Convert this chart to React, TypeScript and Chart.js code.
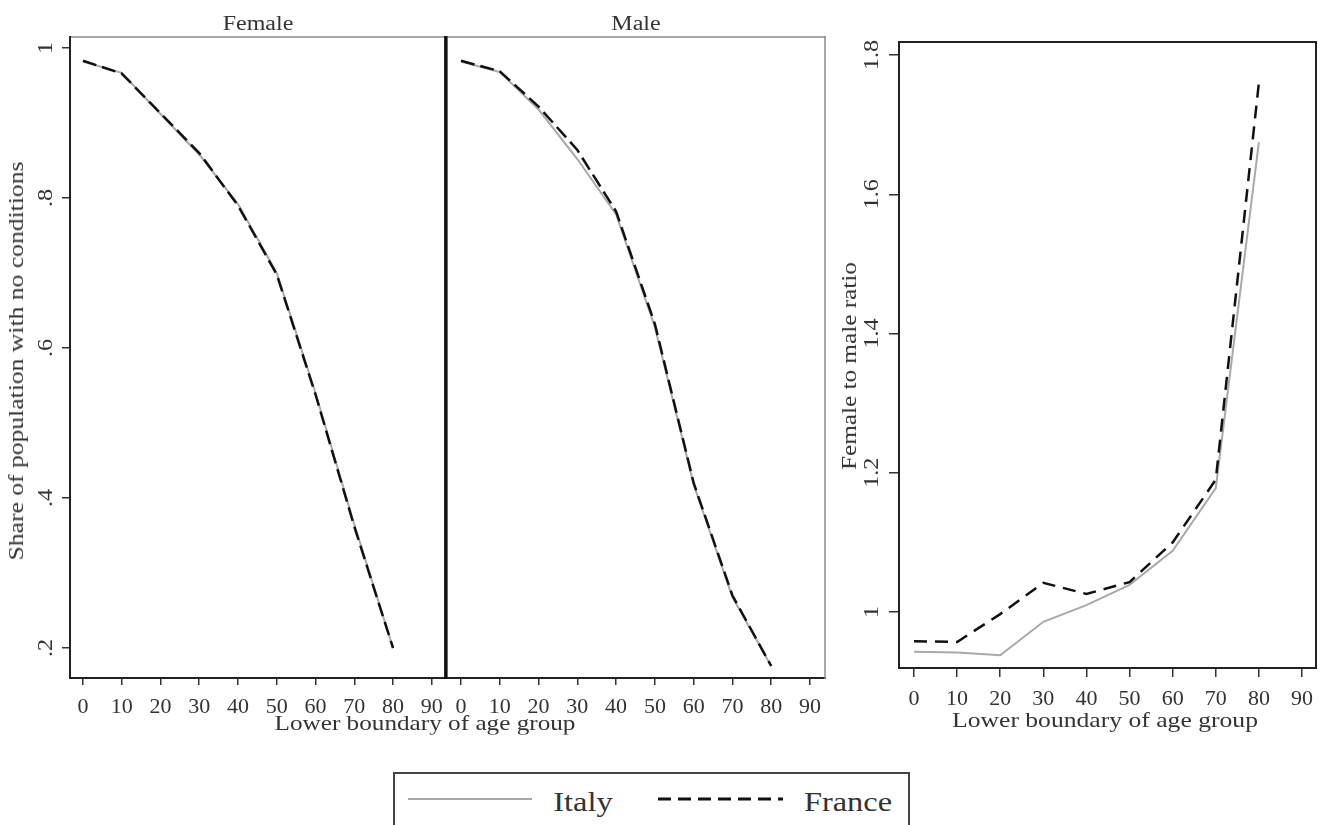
import React, { useEffect, useRef } from 'react';
import { Chart, registerables } from 'chart.js';

Chart.register(...registerables);

const FONT = "'Liberation Serif', 'Times New Roman', serif";
const TEXT = '#333';

// ---------- data ----------
const AGE_GROUPS = [0, 10, 20, 30, 40, 50, 60, 70, 80];
const SERIES_NAMES = ['Italy', 'France'];

const FEMALE_ITALY = [0.982, 0.967, 0.912, 0.858, 0.792, 0.7, 0.54, 0.365, 0.2];
const FEMALE_FRANCE = [0.983, 0.966, 0.913, 0.86, 0.79, 0.698, 0.538, 0.362, 0.2];
const MALE_ITALY = [0.982, 0.968, 0.918, 0.852, 0.778, 0.628, 0.418, 0.268, 0.176];
const MALE_FRANCE = [0.983, 0.969, 0.922, 0.864, 0.782, 0.632, 0.42, 0.27, 0.176];
const RATIO_ITALY = [0.943, 0.942, 0.938, 0.986, 1.01, 1.039, 1.088, 1.178, 1.675];
const RATIO_FRANCE = [0.958, 0.957, 0.997, 1.042, 1.026, 1.043, 1.1, 1.19, 1.76];

const X_TICKS = [0, 10, 20, 30, 40, 50, 60, 70, 80, 90];
const X_TICK_LABELS = ['0', '10', '20', '30', '40', '50', '60', '70', '80', '90'];
const SHARE_TICKS = [0.2, 0.4, 0.6, 0.8, 1];
const SHARE_TICK_LABELS = ['.2', '.4', '.6', '.8', '1'];
const RATIO_TICKS = [1, 1.2, 1.4, 1.6, 1.8];
const RATIO_TICK_LABELS = ['1', '1.2', '1.4', '1.6', '1.8'];

const ITALY_COLOR = '#a9a9a9';
const FRANCE_COLOR = '#111111';

// ---------- plugins ----------
const framePlugin = {
  id: 'frame',
  afterDatasetsDraw(chart: any, _args: any, opts: any) {
    const { left, right, top, bottom } = chart.chartArea;
    const ctx = chart.ctx;
    const s = opts.sides || {};
    const line = (side: any, x1: number, y1: number, x2: number, y2: number) => {
      if (!side) return;
      ctx.save();
      ctx.strokeStyle = side.color;
      ctx.lineWidth = side.width;
      ctx.beginPath();
      ctx.moveTo(x1, y1);
      ctx.lineTo(x2, y2);
      ctx.stroke();
      ctx.restore();
    };
    line(s.top, left - 1, top, right + 1, top);
    line(s.bottom, left - 1, bottom, right + 1, bottom);
    line(s.left, left, top - 1, left, bottom + 1);
    line(s.right, right, top - 1, right, bottom + 1);
  },
};

const yLabelPlugin = {
  id: 'yLabels',
  afterDraw(chart: any, _args: any, opts: any) {
    if (!opts || !opts.labels) return;
    const scale = chart.scales.y;
    const ctx = chart.ctx;
    ctx.save();
    ctx.font = `${opts.size}px ${FONT}`;
    ctx.fillStyle = TEXT;
    ctx.textAlign = 'center';
    ctx.textBaseline = 'middle';
    scale.ticks.forEach((t: any, i: number) => {
      const y = scale.getPixelForValue(t.value);
      ctx.save();
      ctx.translate(opts.x, y);
      ctx.rotate(-Math.PI / 2);
      ctx.scale(opts.sx || 1, 1);
      ctx.fillText(opts.labels[i], 0, 0);
      ctx.restore();
    });
    ctx.restore();
  },
};

type PanelSpec = {
  italy: number[];
  france: number[];
  xMin: number;
  xMax: number;
  yMin: number;
  yMax: number;
  yTicks: number[];
  yTickLabels: string[];
  showY: boolean;
  yAxisWidth: number;
  xAxisHeight: number;
  padding: { left: number; right: number; top: number; bottom: number };
  xTickLen: number;
  yTickLen: number;
  xLabelPad: number;
  xFont: number;
  yLabelX: number;
  frame: any;
  lineWidth: number;
  dash: number[];
};

function buildConfig(p: PanelSpec): any {
  const pts = (vals: number[]) => AGE_GROUPS.map((a, i) => ({ x: a, y: vals[i] }));
  return {
    type: 'line',
    data: {
      datasets: [
        {
          label: SERIES_NAMES[1],
          data: pts(p.france),
          borderColor: FRANCE_COLOR,
          borderWidth: p.lineWidth,
          borderDash: p.dash,
          pointRadius: 0,
          tension: 0,
          fill: false,
        },
        {
          label: SERIES_NAMES[0],
          data: pts(p.italy),
          borderColor: ITALY_COLOR,
          borderWidth: 2,
          pointRadius: 0,
          tension: 0,
          fill: false,
        },
      ],
    },
    options: {
      animation: false,
      responsive: false,
      devicePixelRatio: 1,
      layout: { padding: p.padding },
      plugins: {
        legend: { display: false },
        tooltip: { enabled: false },
        frame: { sides: p.frame },
        yLabels: p.showY ? { labels: p.yTickLabels, x: p.yLabelX, size: 21, sx: 1.15 } : null,
      },
      scales: {
        x: {
          type: 'linear',
          min: p.xMin,
          max: p.xMax,
          afterBuildTicks: (s: any) => {
            s.ticks = X_TICKS.map((v) => ({ value: v }));
          },
          afterFit: (s: any) => {
            s.height = p.xAxisHeight;
          },
          ticks: {
            autoSkip: false,
            maxRotation: 0,
            minRotation: 0,
            padding: p.xLabelPad,
            color: TEXT,
            font: { family: FONT, size: p.xFont },
            callback: (_v: any, i: number) => X_TICK_LABELS[i],
          },
          grid: {
            display: true,
            drawOnChartArea: false,
            drawTicks: true,
            tickLength: p.xTickLen,
            color: '#333',
            lineWidth: 1.5,
          },
          border: { display: false },
        },
        y: {
          type: 'linear',
          display: p.showY,
          min: p.yMin,
          max: p.yMax,
          afterBuildTicks: (s: any) => {
            s.ticks = p.yTicks.map((v) => ({ value: v }));
          },
          afterFit: (s: any) => {
            s.width = p.yAxisWidth;
          },
          ticks: {
            display: false,
            callback: (_v: any, i: number) => p.yTickLabels[i],
          },
          grid: {
            display: true,
            drawOnChartArea: false,
            drawTicks: true,
            tickLength: p.yTickLen,
            color: '#333',
            lineWidth: 1.5,
          },
          border: { display: false },
        },
      },
    },
    plugins: [framePlugin, yLabelPlugin],
  };
}

function ChartCanvas(props: { left: number; top: number; width: number; height: number; spec: PanelSpec }) {
  const ref = useRef<HTMLCanvasElement>(null);
  useEffect(() => {
    const chart = new Chart(ref.current as HTMLCanvasElement, buildConfig(props.spec));
    return () => chart.destroy();
  }, []);
  return (
    <canvas
      ref={ref}
      width={props.width}
      height={props.height}
      style={{ position: 'absolute', left: props.left, top: props.top, width: props.width, height: props.height }}
    />
  );
}

function Txt(props: { x: number; y: number; size: number; sx?: number; rotate?: boolean; children: any }) {
  const sx = props.sx ?? 1.2;
  return (
    <div
      style={{
        position: 'absolute',
        left: props.x,
        top: props.y,
        fontFamily: FONT,
        fontSize: props.size,
        lineHeight: 1,
        color: TEXT,
        whiteSpace: 'nowrap',
        transform: props.rotate
          ? `translate(-50%, -50%) rotate(-90deg) scaleX(${sx})`
          : `translate(-50%, -50%) scaleX(${sx})`,
      }}
    >
      {props.children}
    </div>
  );
}

const BLACK = { color: '#222', width: 2 };
const DIVIDER = { color: '#111', width: 3 };
const GRAY = { color: '#8c8c8c', width: 1.5 };

const femaleSpec: PanelSpec = {
  italy: FEMALE_ITALY,
  france: FEMALE_FRANCE,
  xMin: -3.35,
  xMax: 93.6,
  yMin: 0.16,
  yMax: 1.0147,
  yTicks: SHARE_TICKS,
  yTickLabels: SHARE_TICK_LABELS,
  showY: true,
  yAxisWidth: 70,
  xAxisHeight: 42,
  padding: { left: 0, right: 6, top: 37, bottom: 0 },
  xTickLen: 7,
  yTickLen: 8,
  xLabelPad: 9,
  xFont: 22,
  yLabelX: 46,
  frame: { top: GRAY, left: BLACK, bottom: BLACK, right: DIVIDER },
  lineWidth: 2.5,
  dash: [14, 6],
};

const maleSpec: PanelSpec = {
  italy: MALE_ITALY,
  france: MALE_FRANCE,
  xMin: -3.87,
  xMax: 93.87,
  yMin: 0.16,
  yMax: 1.0147,
  yTicks: SHARE_TICKS,
  yTickLabels: SHARE_TICK_LABELS,
  showY: false,
  yAxisWidth: 0,
  xAxisHeight: 42,
  padding: { left: 6, right: 7, top: 37, bottom: 0 },
  xTickLen: 7,
  yTickLen: 8,
  xLabelPad: 9,
  xFont: 22,
  yLabelX: 0,
  frame: { top: GRAY, right: GRAY, bottom: BLACK, left: DIVIDER },
  lineWidth: 2.5,
  dash: [14, 6],
};

const ratioSpec: PanelSpec = {
  italy: RATIO_ITALY,
  france: RATIO_FRANCE,
  xMin: -3.48,
  xMax: 93.25,
  yMin: 0.9196,
  yMax: 1.8187,
  yTicks: RATIO_TICKS,
  yTickLabels: RATIO_TICK_LABELS,
  showY: true,
  yAxisWidth: 59,
  xAxisHeight: 52,
  padding: { left: 0, right: 12, top: 42, bottom: 0 },
  xTickLen: 9,
  yTickLen: 10,
  xLabelPad: 9,
  xFont: 22,
  yLabelX: 32,
  frame: { top: BLACK, right: BLACK, bottom: BLACK, left: BLACK },
  lineWidth: 2.5,
  dash: [13, 8],
};

export default function App() {
  return (
    <div
      style={{
        position: 'fixed',
        left: 0,
        top: 0,
        width: 1328,
        height: 825,
        overflow: 'hidden',
        background: '#fff',
      }}
    >
      <ChartCanvas left={0} top={0} width={452} height={720} spec={femaleSpec} />
      <ChartCanvas left={440} top={0} width={392} height={720} spec={maleSpec} />
      <ChartCanvas left={840} top={0} width={488} height={720} spec={ratioSpec} />

      <Txt x={258} y={23} size={20}>Female</Txt>
      <Txt x={636} y={23} size={20}>Male</Txt>
      <Txt x={16} y={361} size={20} sx={1.28} rotate>
        Share of population with no conditions
      </Txt>
      <Txt x={425} y={723} size={21} sx={1.2}>
        Lower boundary of age group
      </Txt>
      <Txt x={849} y={366} size={20} sx={1.26} rotate>
        Female to male ratio
      </Txt>
      <Txt x={1105} y={720} size={21} sx={1.22}>
        Lower boundary of age group
      </Txt>

      {/* legend */}
      <div
        style={{
          position: 'absolute',
          left: 393,
          top: 772,
          width: 517,
          height: 80,
          border: '2px solid #444',
          boxSizing: 'border-box',
        }}
      />
      <svg
        style={{ position: 'absolute', left: 393, top: 772 }}
        width={520}
        height={53}
      >
        <line x1={15} y1={27} x2={139} y2={27} stroke={ITALY_COLOR} strokeWidth={2} />
        <line x1={265} y1={27} x2={390} y2={27} stroke={FRANCE_COLOR} strokeWidth={3} strokeDasharray="13 7" />
      </svg>
      <Txt x={583} y={802} size={27} sx={1.2}>
        {SERIES_NAMES[0]}
      </Txt>
      <Txt x={848} y={802} size={27} sx={1.2}>
        {SERIES_NAMES[1]}
      </Txt>
    </div>
  );
}
